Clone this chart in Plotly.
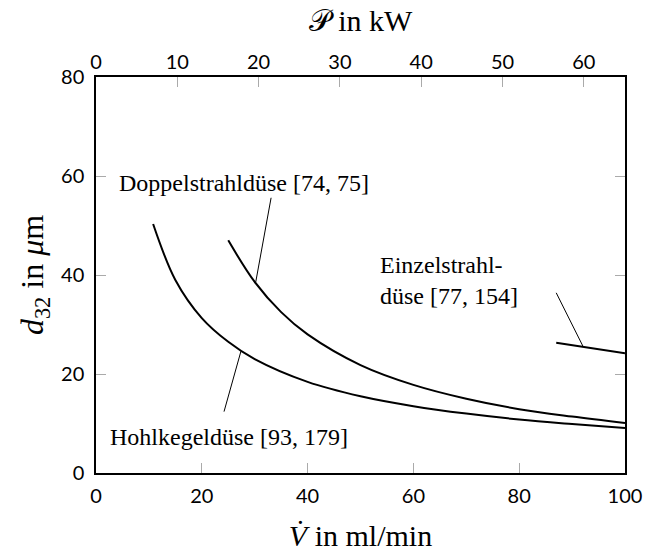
import plotly.graph_objects as go

# Volume flow (ml/min) and Sauter mean diameter d32 (µm) per nozzle type
hohl_v = [10.8, 15, 20, 25, 30, 40, 50, 60, 70, 80, 90, 100]
hohl_d = [50.3, 39.0, 31.3, 26.5, 23.0, 18.4, 15.5, 13.5, 12.0, 10.8, 9.9, 9.1]

doppel_v = [25, 30, 35, 40, 50, 60, 70, 80, 90, 100]
doppel_d = [47.0, 38.6, 32.5, 28.0, 21.8, 17.8, 15.0, 12.9, 11.4, 10.1]

einzel_v = [87, 100]
einzel_d = [26.3, 24.2]

x_ticks = [0, 20, 40, 60, 80, 100]
y_ticks = [0, 20, 40, 60, 80]
p_ticks = [0, 10, 20, 30, 40, 50, 60]
p_max = 65.07

serif = "Liberation Serif"
sans = "Lato"
tick_gray = "#aaaaaa"
line = dict(color="black", width=2)

fig = go.Figure()
fig.add_trace(go.Scatter(x=hohl_v, y=hohl_d, mode="lines", line=line, line_shape="spline"))
fig.add_trace(go.Scatter(x=doppel_v, y=doppel_d, mode="lines", line=line, line_shape="spline"))
fig.add_trace(go.Scatter(x=einzel_v, y=einzel_d, mode="lines", line=line))
# invisible trace so the top power axis is drawn
fig.add_trace(go.Scatter(x=[0, p_max], y=[0, 0], xaxis="x2", mode="lines",
                         line=dict(width=0), hoverinfo="skip", opacity=0))

# leader lines from labels to curves
leaders = [
    ((33.1, 55.6), (30.2, 38.6)),
    ((87.0, 36.4), (92.1, 25.5)),
    ((24.2, 12.4), (27.4, 24.6)),
]
for (x0, y0), (x1, y1) in leaders:
    fig.add_shape(type="line", x0=x0, y0=y0, x1=x1, y1=y1, xref="x", yref="y",
                  line=dict(color="black", width=1))

labels = [
    (4.0, 58.6, "Doppelstrahldüse [74, 75]"),
    (53.3, 38.9, "Einzelstrahl-<br>düse [77, 154]"),
    (2.3, 7.3, "Hohlkegeldüse [93, 179]"),
]
for x, y, t in labels:
    fig.add_annotation(x=x, y=y, text=t, xref="x", yref="y", showarrow=False,
                       xanchor="left", yanchor="middle", align="left",
                       font=dict(family=serif, size=24, color="black"))

fig.update_layout(
    width=646, height=552,
    margin=dict(l=96, r=21, t=77, b=79),
    paper_bgcolor="white", plot_bgcolor="white",
    showlegend=False,
    xaxis=dict(range=[0, 100], tickvals=x_ticks, ticks="inside", ticklen=10,
               tickcolor=tick_gray, showline=True, linecolor="black", linewidth=1.5,
               mirror=True, showgrid=False, zeroline=False, automargin=False,
               tickfont=dict(family=sans, size=20, color="black"),
               ticklabelstandoff=4,
               title=dict(text="<i>V̇</i> in ml/min", standoff=20,
                          font=dict(family=serif, size=30, color="black"))),
    xaxis2=dict(range=[0, p_max], tickvals=p_ticks, overlaying="x", side="top",
                ticks="inside", ticklen=10, tickcolor=tick_gray, showgrid=False,
                zeroline=False, showline=False, automargin=False,
                tickfont=dict(family=sans, size=20, color="black"),
                ticklabelstandoff=3,
                title=dict(text="𝒫 in kW", standoff=8,
                           font=dict(family=serif, size=30, color="black"))),
    yaxis=dict(range=[0, 80], tickvals=y_ticks, ticks="inside", ticklen=10,
               tickcolor=tick_gray, showline=True, linecolor="black", linewidth=1.5,
               mirror="ticks", showgrid=False, zeroline=False, automargin=False,
               tickfont=dict(family=sans, size=20, color="black"),
               ticklabelstandoff=6,
               title=dict(text="<i>d</i><sub>32</sub> in <i>μ</i>m", standoff=8,
                          font=dict(family=serif, size=32, color="black"))),
)

fig.write_html("out.html")
